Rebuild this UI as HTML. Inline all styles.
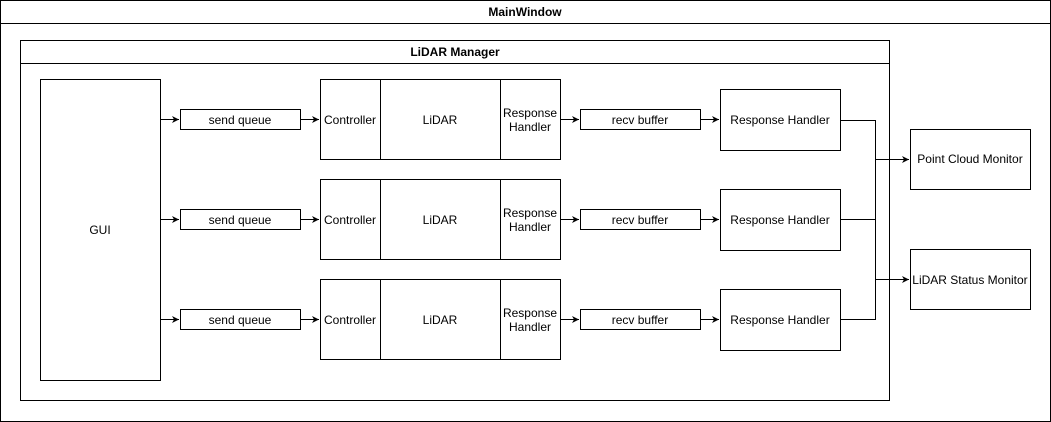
<!DOCTYPE html>
<html><head><meta charset="utf-8"><style>
body{margin:0;background:#fff}
svg{display:block}
text{font-family:"Liberation Sans",Arial,sans-serif;font-size:12px;fill:#000}
.b{font-weight:bold}
</style></head><body>
<svg width="1051" height="422" viewBox="0 0 1051 422" xmlns="http://www.w3.org/2000/svg">
<defs><marker id="a" markerWidth="8" markerHeight="8" refX="7" refY="4" orient="auto" markerUnits="userSpaceOnUse"><path d="M0,0.5 L7,4 L0,7.5 L2,4 Z" fill="#000"/></marker></defs>
<g fill="#fff" stroke="#000" stroke-width="1">
<rect x="0.5" y="0.5" width="1050" height="421"/>
<line x1="0" y1="23.5" x2="1051" y2="23.5"/>
<rect x="20.5" y="40.5" width="869" height="360"/>
<line x1="20" y1="63.5" x2="890" y2="63.5"/>
<rect x="40.5" y="79.5" width="120" height="301"/>
<rect x="910.5" y="129.5" width="120" height="60"/>
<rect x="910.5" y="249.5" width="120" height="60"/>
</g>
<text class="b" x="525" y="16" text-anchor="middle">MainWindow</text>
<text class="b" x="455" y="56" text-anchor="middle">LiDAR Manager</text>
<text x="100" y="234" text-anchor="middle">GUI</text>
<text x="970" y="163" text-anchor="middle">Point Cloud Monitor</text>
<text x="970" y="284" text-anchor="middle">LiDAR Status Monitor</text>
<g id="row">
<g fill="#fff" stroke="#000">
<rect x="180.5" y="109.5" width="120" height="20"/>
<rect x="320.5" y="79.5" width="240" height="80"/>
<line x1="380.5" y1="80" x2="380.5" y2="160"/>
<line x1="500.5" y1="80" x2="500.5" y2="160"/>
<rect x="580.5" y="109.5" width="120" height="20"/>
<rect x="720.5" y="89.5" width="120" height="61"/>
</g>
<g stroke="#000" fill="none">
<line x1="160" y1="119.5" x2="179" y2="119.5" marker-end="url(#a)"/>
<line x1="300" y1="119.5" x2="319" y2="119.5" marker-end="url(#a)"/>
<line x1="560" y1="119.5" x2="579" y2="119.5" marker-end="url(#a)"/>
<line x1="700" y1="119.5" x2="719" y2="119.5" marker-end="url(#a)"/>
</g>
<text x="240" y="124" text-anchor="middle">send queue</text>
<text x="350" y="124" text-anchor="middle">Controller</text>
<text x="440" y="124" text-anchor="middle">LiDAR</text>
<text x="530" y="117" text-anchor="middle">Response</text>
<text x="530" y="131" text-anchor="middle">Handler</text>
<text x="640" y="124" text-anchor="middle">recv buffer</text>
<text x="780" y="124" text-anchor="middle">Response Handler</text>
</g>
<use href="#row" y="100"/>
<use href="#row" y="200"/>
<g stroke="#000" fill="none">
<polyline points="840,120.5 875.5,120.5 875.5,319.5 840,319.5"/>
<line x1="840" y1="219.5" x2="875" y2="219.5"/>
<line x1="875" y1="159.5" x2="909" y2="159.5" marker-end="url(#a)"/>
<line x1="875" y1="279.5" x2="909" y2="279.5" marker-end="url(#a)"/>
</g>
</svg>
</body></html>
